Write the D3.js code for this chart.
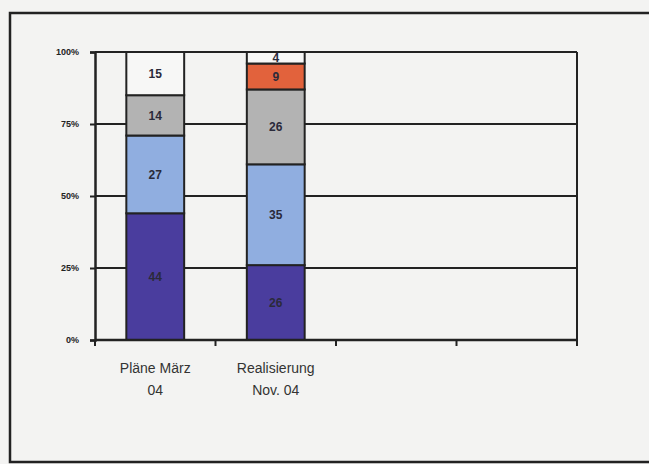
<!DOCTYPE html>
<html>
<head>
<meta charset="utf-8">
<script src="https://cdn.jsdelivr.net/npm/d3@7"></script>
<style>
  body { margin: 0; background: #f3f3f2; }
  svg { display: block; }
  text { font-family: "Liberation Sans", Arial, sans-serif; fill: #222; }
</style>
</head>
<body>
<svg id="chart" width="649" height="464"></svg>
<script>
// Data
const categories = ["Pläne März\n04", "Realisierung\nNov. 04", "c3", "c4"];
const seriesNames = ["s1", "s2", "s3", "s4", "s5"];
const planValues = [44, 27, 14, 0, 15];
const realValues = [26, 35, 26, 9, 4];
const yTicks = [0, 25, 50, 75, 100];
const yTickLabels = ["0%", "25%", "50%", "75%", "100%"];
const colors = ["#4a3d9e", "#90aee0", "#b3b3b3", "#e2623c", "#f7f7f6"];

const svg = d3.select("#chart");
const margin = { top: 52, right: 72, bottom: 124, left: 95 };
const width = 649 - margin.left - margin.right;
const height = 464 - margin.top - margin.bottom;

// outer frame (runs off the right side)
svg.append("path")
    .attr("d", "M 660 13 L 10 13 L 10 462 L 660 462")
    .attr("fill", "none")
    .attr("stroke", "#222")
    .attr("stroke-width", 2.5);

const g = svg.append("g").attr("transform", `translate(${margin.left},${margin.top})`);

const x = d3.scaleBand().domain(categories).range([0, width]).paddingInner(0.52).paddingOuter(0.26);
const y = d3.scaleLinear().domain([0, 100]).range([height, 0]);

const rows = [planValues, realValues];
const table = rows.map((vals, i) => {
    const o = { cat: categories[i] };
    seriesNames.forEach((s, j) => o[s] = vals[j]);
    return o;
});
const stacked = d3.stack().keys(seriesNames)(table);

// gridlines
g.selectAll(".grid").data(yTicks).enter().append("line")
    .attr("x1", 0).attr("x2", width)
    .attr("y1", d => y(d)).attr("y2", d => y(d))
    .attr("stroke", "#222").attr("stroke-width", 2);

// right border
g.append("line").attr("x1", width).attr("x2", width).attr("y1", 0).attr("y2", height)
    .attr("stroke", "#222").attr("stroke-width", 2);

// bars
stacked.forEach((layer, j) => {
    g.selectAll(".seg" + j).data(layer.filter(d => d[1] - d[0] > 0)).enter().append("rect")
        .attr("x", d => x(d.data.cat))
        .attr("width", x.bandwidth())
        .attr("y", d => y(d[1]))
        .attr("height", d => y(d[0]) - y(d[1]))
        .attr("fill", colors[j])
        .attr("stroke", "#222")
        .attr("stroke-width", 2);
    g.selectAll(".lab" + j).data(layer.filter(d => d[1] - d[0] > 0)).enter().append("text")
        .attr("x", d => x(d.data.cat) + x.bandwidth() / 2)
        .attr("y", d => (y(d[0]) + y(d[1])) / 2)
        .attr("dy", "0.36em")
        .attr("text-anchor", "middle")
        .style("font-size", "12px")
        .style("font-weight", "bold")
        .style("fill", "#2a2a3a")
        .text(d => d[1] - d[0]);
});

// y axis
const yAxis = g.append("g")
    .call(d3.axisLeft(y).tickValues(yTicks).tickSize(5).tickFormat((d, i) => yTickLabels[i]));
yAxis.select(".domain").attr("stroke", "#222").attr("stroke-width", 2.5);
yAxis.selectAll(".tick line").attr("stroke", "#222").attr("stroke-width", 2);
yAxis.selectAll(".tick text")
    .attr("x", -16)
    .style("font-size", "9px")
    .style("font-weight", "bold")
    .style("fill", "#222");

// x axis with ticks at band boundaries
const bounds = categories.map(c => x(c) - x.step() * x.paddingInner() / 2).concat([width]);
g.append("line").attr("x1", 0).attr("x2", width).attr("y1", height).attr("y2", height)
    .attr("stroke", "#222").attr("stroke-width", 2.5);
g.selectAll(".xtick").data(bounds).enter().append("line")
    .attr("x1", d => d).attr("x2", d => d)
    .attr("y1", height).attr("y2", height + 6)
    .attr("stroke", "#222").attr("stroke-width", 2);

// category labels
categories.slice(0, 2).forEach(c => {
    const t = g.append("text")
        .attr("text-anchor", "middle")
        .style("font-size", "14px")
        .style("fill", "#333");
    c.split("\n").forEach((line, i) => {
        t.append("tspan")
            .attr("x", x(c) + x.bandwidth() / 2)
            .attr("y", height + 33 + i * 22)
            .text(line);
    });
});
</script>
</body>
</html>
